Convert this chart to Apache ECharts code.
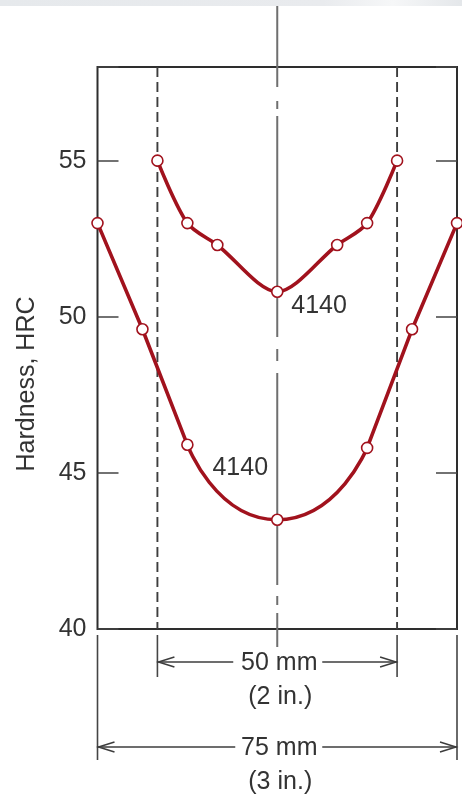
<!DOCTYPE html>
<html>
<head>
<meta charset="utf-8">
<script src="https://cdn.jsdelivr.net/npm/echarts@6/dist/echarts.min.js"></script>
<style>
  html, body { margin: 0; padding: 0; background: #ffffff; }
  #chart { width: 462px; height: 808px; }
</style>
</head>
<body>
<div id="chart"></div>
<script>
// Hardness profiles across the diameter of quenched 4140 steel bars.
// Positions are measured in mm from the left surface of the 75 mm bar.
const positions75 = [0, 9.375, 18.75, 37.5, 56.25, 65.625, 75];
const hardness75  = [53.0, 49.6, 45.9, 43.5, 45.8, 49.6, 53.0];

const positions50 = [12.5, 18.75, 25, 37.5, 50, 56.25, 62.5];
const hardness50  = [55.0, 53.0, 52.3, 50.8, 52.3, 53.0, 55.0];

const hardnessTicks = [40, 45, 50, 55];
const hardnessRange = [40, 58];
const positionRange = [0, 75];

const centrePosition = 37.5;
const bar50Edges = [12.5, 62.5];
const bar75Edges = [0, 75];
const steelGrade = '4140';
const spanLabels = ['50 mm', '75 mm'];
const spanSubLabels = ['(2 in.)', '(3 in.)'];

const FONT = '"Liberation Sans", Arial, Helvetica, sans-serif';
const RED = '#a1121d';
const INK = '#333333';
const LINE_WIDTH = 3.6;

const chart = echarts.init(document.getElementById('chart'), null, { renderer: 'canvas' });

function pairs(xs, ys) {
  return xs.map(function (x, i) { return [x, ys[i]]; });
}

// a stretch of a profile curve (no markers)
function stretch(points, smooth) {
  return {
    type: 'line',
    smooth: smooth,
    clip: false,
    z: 4,
    symbol: 'none',
    lineStyle: { color: RED, width: LINE_WIDTH, cap: 'round', join: 'round' },
    emphasis: { disabled: true },
    silent: true,
    data: points
  };
}

// the measured points of a profile, with the steel grade beside the centre point
function markers(points, label) {
  return {
    type: 'scatter',
    z: 6,
    symbol: 'circle',
    symbolSize: 11,
    itemStyle: { color: '#ffffff', borderColor: RED, borderWidth: 1.6, opacity: 1 },
    emphasis: { disabled: true },
    data: points.map(function (p) {
      const d = { value: p };
      if (p[0] === centrePosition) {
        d.label = Object.assign({
          show: true,
          formatter: steelGrade,
          position: 'inside',
          color: INK,
          fontFamily: FONT,
          fontSize: 25
        }, label);
      }
      return d;
    })
  };
}

const points75 = pairs(positions75, hardness75);
const points50 = pairs(positions50, hardness50);
// the 75 mm profile runs straight near the surfaces and rounds off through the core
const coreFrom = positions75.indexOf(18.75);
const coreTo = positions75.indexOf(56.25);

const yAxisBase = {
  type: 'value',
  min: hardnessRange[0],
  max: hardnessRange[1],
  interval: 5,
  axisLine: { show: false },
  splitLine: { show: false },
  axisTick: {
    show: true,
    inside: true,
    length: 21,
    lineStyle: { color: '#444', width: 1.5 }
  }
};

chart.setOption({
  animation: false,
  grid: {
    left: 97.5,
    right: 5,
    top: 67,
    bottom: 179,
    show: true,
    borderColor: '#2e2e2e',
    borderWidth: 2,
    backgroundColor: 'transparent'
  },
  xAxis: {
    type: 'value',
    min: positionRange[0],
    max: positionRange[1],
    axisLine: { show: false },
    axisTick: { show: false },
    axisLabel: { show: false },
    splitLine: { show: false }
  },
  yAxis: [
    Object.assign({}, yAxisBase, {
      position: 'left',
      name: 'Hardness, HRC',
      nameLocation: 'middle',
      nameRotate: 90,
      nameGap: 58,
      nameTextStyle: {
        color: INK,
        fontFamily: FONT,
        fontSize: 25,
        padding: [0, 72, 0, 0]
      },
      axisLabel: {
        margin: 11,
        color: INK,
        fontFamily: FONT,
        fontSize: 25,
        formatter: function (v) { return hardnessTicks.indexOf(v) >= 0 ? String(v) : ''; }
      }
    }),
    Object.assign({}, yAxisBase, {
      position: 'right',
      axisLabel: { show: false }
    })
  ],
  series: [
    stretch(points75.slice(0, coreFrom + 1), false),
    stretch(points75.slice(coreFrom, coreTo + 1), 0.68),
    stretch(points75.slice(coreTo), false),
    stretch(points50, 0.3),
    markers(points75, { align: 'center', verticalAlign: 'middle', offset: [-37, -52] }),
    markers(points50, { align: 'left', verticalAlign: 'middle', offset: [14, 14] })
  ]
});

// Construction lines, dimension arrows and their captions, placed through the axes' scales.
const px = function (v) { return chart.convertToPixel({ xAxisIndex: 0 }, v); };
const py = function (v) { return chart.convertToPixel({ yAxisIndex: 0 }, v); };
const boxTop = py(hardnessRange[1]);
const boxBottom = py(hardnessRange[0]);
const cx = px(centrePosition);

const graphics = [];

// faint band along the top edge
graphics.push({
  type: 'rect', z: 0, silent: true,
  shape: { x: 0, y: 0, width: 462, height: 6 },
  style: {
    fill: new echarts.graphic.LinearGradient(0, 0, 1, 0, [
      { offset: 0, color: '#e6e9ec' },
      { offset: 0.7, color: '#e9ebee' },
      { offset: 0.85, color: '#f6f7f8' },
      { offset: 1, color: '#e4e7ea' }
    ])
  }
});

// centre line (chain line through the axis of the bars)
graphics.push({
  type: 'line', z: 1, silent: true,
  shape: { x1: cx, y1: boxTop - 61, x2: cx, y2: boxBottom + 18 },
  style: {
    stroke: '#6f6f6f', lineWidth: 2,
    lineDash: [81, 14, 8, 7, 221, 12, 12, 12, 212, 11, 9, 8, 60]
  }
});

// surfaces of the 50 mm bar
bar50Edges.forEach(function (m) {
  const x = px(m);
  graphics.push({
    type: 'line', z: 1, silent: true,
    shape: { x1: x, y1: boxTop, x2: x, y2: boxBottom },
    style: { stroke: '#3d3d3d', lineWidth: 1.9, lineDash: [10, 5] }
  });
  graphics.push({
    type: 'line', z: 1, silent: true,
    shape: { x1: x, y1: boxBottom + 6, x2: x, y2: boxBottom + 48 },
    style: { stroke: '#454545', lineWidth: 1.6 }
  });
});

// surfaces of the 75 mm bar
bar75Edges.forEach(function (m) {
  const x = px(m);
  graphics.push({
    type: 'line', z: 1, silent: true,
    shape: { x1: x, y1: boxBottom + 6, x2: x, y2: boxBottom + 131 },
    style: { stroke: '#454545', lineWidth: 1.6 }
  });
});

function dimension(edges, y, gapLeft, gapRight, label, subLabel) {
  const x1 = px(edges[0]);
  const x2 = px(edges[1]);
  const stroke = { stroke: '#3c3c3c', lineWidth: 1.5 };
  graphics.push({ type: 'line', z: 1, silent: true,
    shape: { x1: x1, y1: y, x2: cx - gapLeft, y2: y }, style: stroke });
  graphics.push({ type: 'line', z: 1, silent: true,
    shape: { x1: cx + gapRight, y1: y, x2: x2, y2: y }, style: stroke });
  graphics.push({ type: 'polyline', z: 1, silent: true,
    shape: { points: [[x1 + 17, y - 5], [x1 + 1, y], [x1 + 17, y + 5]] },
    style: Object.assign({ fill: null }, stroke) });
  graphics.push({ type: 'polyline', z: 1, silent: true,
    shape: { points: [[x2 - 17, y - 5], [x2 - 1, y], [x2 - 17, y + 5]] },
    style: Object.assign({ fill: null }, stroke) });
  graphics.push({ type: 'text', z: 1, silent: true,
    style: { x: cx + 2, y: y + 1, text: label, fill: INK, font: '25px ' + FONT,
             align: 'center', verticalAlign: 'middle' } });
  graphics.push({ type: 'text', z: 1, silent: true,
    style: { x: cx + 3, y: y + 35, text: subLabel, fill: INK, font: '25px ' + FONT,
             align: 'center', verticalAlign: 'middle' } });
}

dimension(bar50Edges, boxBottom + 33, 44, 45, spanLabels[0], spanSubLabels[0]);
dimension(bar75Edges, boxBottom + 118, 42, 45, spanLabels[1], spanSubLabels[1]);

chart.setOption({ graphic: { elements: graphics } });
</script>
</body>
</html>
